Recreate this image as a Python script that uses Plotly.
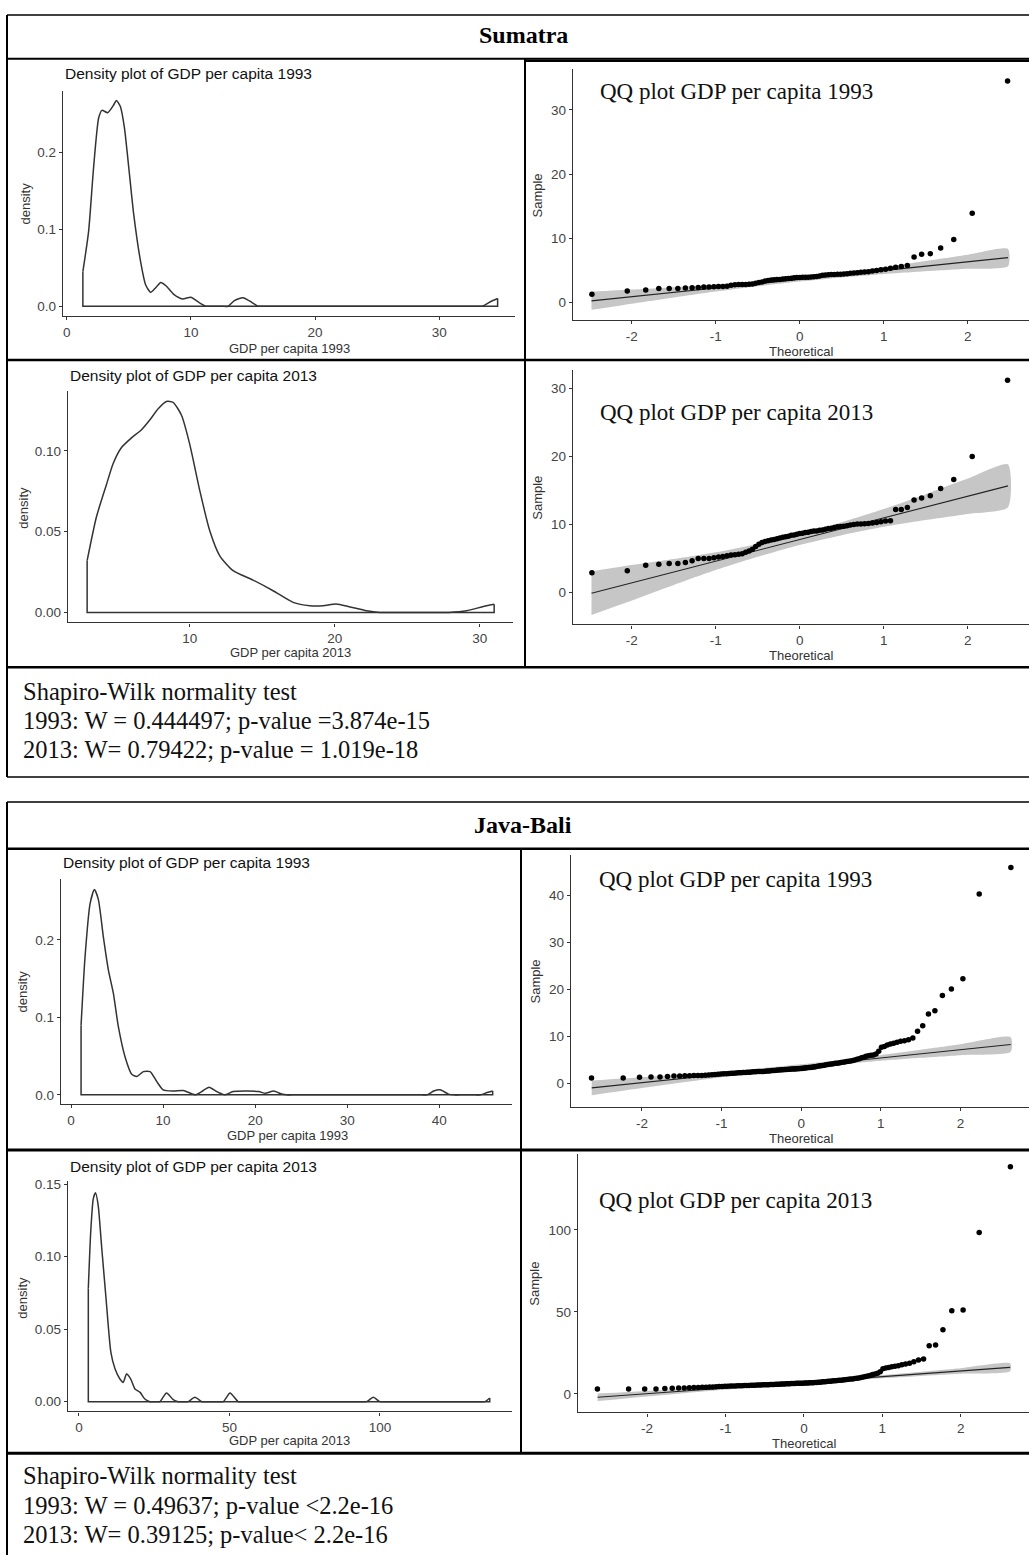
import plotly.graph_objects as go
from statistics import NormalDist

W, H = 1029, 1555

# ---------------- DATA ----------------
# Density curves
sum93_dens_x = [1.3, 1.76, 2.16, 2.57, 2.84, 3.3, 3.78, 4.0, 4.32, 4.65, 5.0, 5.4, 5.95, 6.35, 6.76, 7.16, 7.57, 7.97,
                8.65, 9.32, 10.0, 10.5, 11.2, 11.8, 12.5, 13.0, 13.5, 14.2, 14.9, 15.4, 16.0, 33.0, 33.5, 34.2, 34.7]
sum93_dens_y = [0.045, 0.097, 0.18, 0.245, 0.255, 0.252, 0.262, 0.268, 0.26, 0.232, 0.18, 0.119, 0.058, 0.028, 0.018,
                0.024, 0.031, 0.027, 0.015, 0.0095, 0.0117, 0.0065, 0.0, 0.0, 0.0, 0.0, 0.0074, 0.011, 0.005, 0.0,
                0.0, 0.0, 0.0, 0.0065, 0.01]

sum13_dens_x = [2.92, 3.56, 4.25, 4.71, 5.29, 5.98, 6.67, 7.24, 7.82, 8.39, 8.85, 9.43, 10.0, 10.7, 11.38, 12.07,
                12.99, 14.37, 15.75, 17.13, 18.28, 19.2, 20.1, 21.0, 22.2, 23.1, 23.8, 27.3, 27.9, 29.1, 30.2, 31.0]
sum13_dens_y = [0.032, 0.059, 0.079, 0.092, 0.102, 0.108, 0.113, 0.119, 0.126, 0.1305, 0.130, 0.122, 0.104, 0.075,
                0.0505, 0.035, 0.0258, 0.020, 0.0134, 0.0062, 0.0041, 0.0041, 0.0052, 0.0035, 0.001, 0.0, 0.0, 0.0,
                0.0, 0.001, 0.0035, 0.005]

java93_dens_x = [1.09, 1.52, 2.07, 2.54, 2.97, 3.51, 4.06, 4.6, 5.14, 5.87, 6.59, 7.14, 7.86, 8.59, 9.31, 10.0, 11.1,
                 12.2, 13.5, 14.2, 15.0, 15.8, 16.7, 17.6, 19.1, 20.4, 21.1, 22.0, 22.9, 23.4, 24.0, 38.1, 38.7, 39.4,
                 40.1, 41.0, 41.6, 42.2, 43.9, 44.5, 45.2, 45.8]
java93_dens_y = [0.090, 0.178, 0.247, 0.265, 0.252, 0.204, 0.161, 0.131, 0.088, 0.049, 0.0267, 0.0237, 0.030, 0.030,
                 0.0172, 0.0065, 0.005, 0.0056, 0.0, 0.0043, 0.0099, 0.0043, 0.0, 0.0043, 0.005, 0.0043, 0.002, 0.005,
                 0.001, 0.0, 0.0, 0.0, 0.0, 0.005, 0.0065, 0.001, 0.0, 0.0, 0.0, 0.0, 0.003, 0.005]

java13_dens_x = [3.1, 3.9, 4.76, 5.5, 6.4, 7.5, 9.0, 10.6, 12.0, 13.6, 14.7, 15.8, 17.2, 18.6, 20.3, 21.9, 23.6, 24.5,
                 26.0, 26.9, 29.1, 31.3, 33.0, 34.0, 35.3, 36.3, 38.5, 40.8, 41.8, 47.0, 48.0, 50.2, 52.9, 54.2, 94.3,
                 95.6, 97.8, 100.0, 101.3, 133.6, 134.9, 136.5]
java13_dens_y = [0.078, 0.117, 0.14, 0.144, 0.135, 0.1075, 0.0708, 0.034, 0.0225, 0.0156, 0.0133, 0.019, 0.0156,
                 0.0087, 0.0064, 0.0018, 0.0, 0.0, 0.0, 0.0, 0.006, 0.0014, 0.0, 0.0, 0.0, 0.0, 0.003, 0.0, 0.0, 0.0,
                 0.0, 0.006, 0.0, 0.0, 0.0, 0.0, 0.003, 0.0, 0.0, 0.0, 0.0, 0.0025]

# QQ sample values (sorted)
sum93_sample = [1.28, 1.8, 1.95, 2.2, 2.2, 2.2, 2.25, 2.3, 2.35, 2.4, 2.4, 2.45, 2.5, 2.5, 2.55, 2.7, 2.75, 2.8, 2.8,
                2.8, 2.85, 2.9, 3.0, 3.1, 3.2, 3.35, 3.45, 3.5, 3.55, 3.6, 3.6, 3.65, 3.7, 3.75, 3.8, 3.85, 3.9, 3.9,
                3.92, 3.95, 3.95, 3.97, 4.0, 4.05, 4.15, 4.25, 4.3, 4.32, 4.35, 4.37, 4.4, 4.42, 4.45, 4.5, 4.55, 4.6,
                4.65, 4.7, 4.75, 4.8, 4.9, 5.0, 5.1, 5.2, 5.35, 5.5, 5.6, 5.75, 7.1, 7.5, 7.6, 8.5, 9.8, 13.9, 34.5]
sum13_sample = [2.9, 3.2, 4.0, 4.15, 4.25, 4.25, 4.4, 4.65, 5.0, 5.0, 5.0, 5.1, 5.2, 5.3, 5.4, 5.5, 5.55, 5.6, 5.7,
                5.9, 6.1, 6.35, 6.75, 7.1, 7.35, 7.5, 7.6, 7.7, 7.8, 7.9, 8.0, 8.1, 8.2, 8.25, 8.4, 8.45, 8.55, 8.65,
                8.7, 8.8, 8.85, 8.95, 9.05, 9.05, 9.15, 9.2, 9.3, 9.4, 9.45, 9.55, 9.65, 9.7, 9.75, 9.8, 9.9, 10.0,
                10.05, 10.05, 10.1, 10.15, 10.2, 10.3, 10.4, 10.5, 10.55, 12.2, 12.2, 12.5, 13.6, 13.9, 14.2, 15.3,
                16.6, 20.0, 31.2]
java93_sample = [1.2, 1.2, 1.35, 1.4, 1.4, 1.5, 1.6, 1.6, 1.65, 1.65,
                 1.7, 1.7, 1.75, 1.8, 1.85, 1.9, 1.95, 2.0, 2.05, 2.1,
                 2.1, 2.15, 2.2, 2.2, 2.25, 2.3, 2.3, 2.35, 2.35, 2.4,
                 2.4, 2.45, 2.5, 2.5, 2.55, 2.55, 2.6, 2.6, 2.65, 2.7,
                 2.7, 2.75, 2.8, 2.8, 2.85, 2.9, 2.9, 2.95, 2.95, 3.0,
                 3.0, 3.05, 3.05, 3.1, 3.1, 3.1, 3.15, 3.15, 3.2, 3.2,
                 3.25, 3.3, 3.35, 3.4, 3.45, 3.5, 3.55, 3.6, 3.7, 3.75,
                 3.8, 3.85, 3.9, 4.0, 4.05, 4.1, 4.15, 4.2, 4.3, 4.35,
                 4.4, 4.5, 4.55, 4.6, 4.7, 4.75, 4.8, 4.9, 5.0, 5.2,
                 5.3, 5.5, 5.6, 5.8, 5.9, 6.0, 6.1, 6.3, 6.9, 7.7,
                 7.9, 8.2, 8.4, 8.6, 8.8, 9.0, 9.1, 9.3, 9.7, 11.1,
                 12.3, 14.8, 15.5, 18.7, 20.1, 22.3, 40.3, 45.9]
java13_sample = [3.0, 3.0, 3.0, 3.0, 3.4, 3.5, 3.6, 3.7, 3.8, 3.9,
                 4.0, 4.05, 4.1, 4.2, 4.3, 4.4, 4.5, 4.6, 4.7, 4.75,
                 4.8, 4.85, 4.9, 4.95, 5.0, 5.05, 5.1, 5.15, 5.2, 5.25,
                 5.3, 5.35, 5.4, 5.45, 5.5, 5.55, 5.6, 5.65, 5.7, 5.75,
                 5.8, 5.85, 5.9, 5.95, 6.0, 6.05, 6.1, 6.15, 6.2, 6.25,
                 6.3, 6.35, 6.4, 6.45, 6.5, 6.5, 6.55, 6.55, 6.6, 6.65,
                 6.7, 6.75, 6.8, 6.85, 6.9, 6.95, 7.0, 7.1, 7.2, 7.3,
                 7.4, 7.5, 7.6, 7.7, 7.8, 7.9, 8.0, 8.1, 8.2, 8.3,
                 8.4, 8.5, 8.7, 8.8, 8.9, 9.1, 9.2, 9.4, 9.6, 9.8,
                 10.0, 10.3, 10.6, 10.9, 11.3, 11.8, 12.2, 12.6, 13.5, 15.3,
                 15.8, 16.2, 16.6, 16.9, 17.2, 17.8, 18.3, 18.8, 19.7, 20.7,
                 21.3, 29.4, 29.8, 39.1, 50.7, 51.1, 98.4, 138.5]

# QQ reference lines (endpoints) and confidence bands
sum93_line_x = [-2.48, 2.48]
sum93_line_y = [0.26, 7.0]
sum93_band_x = [-2.48, -2, -1.5, -1, -0.5, 0, 0.5, 1, 1.5, 2, 2.48]
sum93_band_hi = [1.66, 2.01, 2.39, 2.82, 3.35, 3.98, 4.71, 5.54, 6.47, 7.45, 8.35]
sum93_band_lo = [-1.14, -0.19, 0.79, 1.72, 2.55, 3.28, 3.91, 4.44, 4.87, 5.25, 5.65]

sum13_line_x = [-2.48, 2.48]
sum13_line_y = [-0.11, 15.67]
sum13_band_x = [-2.48, -2, -1.5, -1, -0.5, 0, 0.5, 1, 1.5, 2, 2.48]
sum13_band_hi = [3.09, 4.02, 4.91, 5.90, 7.14, 8.58, 10.32, 12.26, 14.45, 16.74, 18.82]
sum13_band_lo = [-3.31, -1.18, 1.11, 3.30, 5.24, 6.98, 8.42, 9.66, 10.65, 11.54, 12.52]

java93_line_x = [-2.63, 2.63]
java93_line_y = [-0.90, 8.30]
java93_band_x = [-2.63, -2, -1.5, -1, -0.5, 0, 0.5, 1, 1.5, 2, 2.63]
java93_band_hi = [0.65, 1.35, 1.925, 2.55, 3.275, 4.10, 5.025, 6.05, 7.175, 8.35, 9.85]
java93_band_lo = [-2.45, -0.95, 0.225, 1.35, 2.375, 3.30, 4.125, 4.85, 5.475, 6.05, 6.75]

java13_line_x = [-2.63, 2.63]
java13_line_y = [-2.03, 16.23]
java13_band_x = [-2.63, -2, -1.5, -1, -0.5, 0, 0.5, 1, 1.5, 2, 2.63]
java13_band_hi = [0.27, 1.86, 3.195, 4.58, 6.065, 7.7, 9.535, 11.52, 13.605, 15.74, 18.63]
java13_band_lo = [-4.33, -1.54, 0.595, 2.68, 4.665, 6.5, 8.135, 9.62, 11.005, 12.34, 13.83]

# Tick labels
dens_ticks_a = [0.0, 0.1, 0.2]
dens_ticktext_a = ["0.0", "0.1", "0.2"]
dens_ticks_b = [0.0, 0.05, 0.10]
dens_ticktext_b = ["0.00", "0.05", "0.10"]
dens_ticks_c = [0.0, 0.05, 0.10, 0.15]
dens_ticktext_c = ["0.00", "0.05", "0.10", "0.15"]
qq_xticks = [-2, -1, 0, 1, 2]
qq_xticktext = ["-2", "-1", "0", "1", "2"]

# Texts
regions = ["Sumatra", "Java-Bali"]
sw_lines_sumatra = ["Shapiro-Wilk normality test",
                    "1993: W = 0.444497; p-value =3.874e-15",
                    "2013: W= 0.79422; p-value = 1.019e-18"]
sw_lines_java = ["Shapiro-Wilk normality test",
                 "1993: W = 0.49637; p-value <2.2e-16",
                 "2013: W= 0.39125; p-value< 2.2e-16"]

# ---------------- FIGURE ----------------
SANS = "Liberation Sans, Arial, sans-serif"
SERIF = "Liberation Serif, Times New Roman, serif"
AXC = "#333333"
TICKC = "#444444"

fig = go.Figure()
annotations = []
shapes = []


def px(x):
    return x / W


def py(y):
    return 1 - y / H


def add_axes(i, box, xr, yr, xt, yt, xtt=None, ytt=None):
    x0, x1, y0, y1 = box
    common = dict(showline=True, linecolor=AXC, linewidth=1.4, ticks="outside", ticklen=3,
                  tickcolor=AXC, tickwidth=1.3, showgrid=False, zeroline=False,
                  tickfont=dict(family=SANS, size=13.5, color=TICKC), fixedrange=True)
    xa = dict(common, domain=[px(x0), px(x1)], range=xr, anchor="y%d" % i, tickvals=xt)
    ya = dict(common, domain=[py(y1), py(y0)], range=yr, anchor="x%d" % i, tickvals=yt)
    if xtt:
        xa["ticktext"] = xtt
    if ytt:
        ya["ticktext"] = ytt
    sfx = "" if i == 1 else str(i)
    fig.layout["xaxis" + sfx] = xa
    fig.layout["yaxis" + sfx] = ya


def add_density(i, xs, ys):
    ax = dict(xaxis="x%d" % i, yaxis="y%d" % i)
    fig.add_trace(go.Scatter(x=xs, y=ys, mode="lines", line=dict(color="#333333", width=1.5, shape="spline",
                                                                    smoothing=0.6), hoverinfo="skip", **ax))
    fig.add_trace(go.Scatter(x=[xs[0], xs[0], xs[-1], xs[-1]], y=[ys[0], 0, 0, ys[-1]], mode="lines",
                             line=dict(color="#333333", width=1.5), hoverinfo="skip", **ax))


def add_qq(i, sample, lx, ly, bx, bhi, blo):
    ax = dict(xaxis="x%d" % i, yaxis="y%d" % i)
    n = len(sample)
    nd = NormalDist()
    theo = [nd.inv_cdf((k + 0.5) / n) for k in range(n)]
    fig.add_trace(go.Scatter(x=bx + bx[::-1], y=bhi + blo[::-1], mode="lines", fill="toself",
                             fillcolor="#c6c6c6", line=dict(width=0, shape="spline", smoothing=0.6),
                             hoverinfo="skip", **ax))
    fig.add_trace(go.Scatter(x=lx, y=ly, mode="lines", line=dict(color="#222222", width=1.1),
                             hoverinfo="skip", **ax))
    fig.add_trace(go.Scatter(x=theo, y=sample, mode="markers", marker=dict(color="black", size=5.5),
                             hoverinfo="skip", **ax))


def ann(text, x, y, size, family, color="#000", xanchor="center", angle=0, bold=False):
    if bold:
        text = "<b>%s</b>" % text
    annotations.append(dict(text=text, x=px(x), y=py(y), xref="paper", yref="paper", showarrow=False,
                            xanchor=xanchor, yanchor="middle", textangle=angle,
                            font=dict(size=size, family=family, color=color)))


def hline(x0, x1, y, w=2):
    shapes.append(dict(type="line", xref="paper", yref="paper", x0=px(x0), x1=px(x1), y0=py(y), y1=py(y),
                       line=dict(color="black", width=w)))


def vline(x, y0, y1, w=2):
    shapes.append(dict(type="line", xref="paper", yref="paper", x0=px(x), x1=px(x), y0=py(y0), y1=py(y1),
                       line=dict(color="black", width=w)))


TITLE_C = "#111111"

# ---- Sumatra ----
add_density(1, sum93_dens_x, sum93_dens_y)
add_axes(1, (63, 515, 87, 313), [-0.3, 36.1], [-0.013, 0.2805], [0, 10, 20, 30], dens_ticks_a, None, dens_ticktext_a)
ann("Density plot of GDP per capita 1993", 63, 70, 15.5, SANS, TITLE_C, "left")
ann("density", 25, 200, 13, SANS, AXC, angle=-90)
ann("GDP per capita 1993", 289, 345, 13, SANS, AXC)

add_qq(2, sum93_sample, sum93_line_x, sum93_line_y, sum93_band_x, sum93_band_hi, sum93_band_lo)
add_axes(2, (573, 1029, 65, 317), [-2.70, 2.73], [-2.75, 36.4], qq_xticks, [0, 10, 20, 30], qq_xticktext)
ann("QQ plot GDP per capita 1993", 598, 88, 23, SERIF, "#111", "left")
ann("Sample", 538, 192, 13, SANS, AXC, angle=-90)
ann("Theoretical", 801, 348, 13, SANS, AXC)

add_density(3, sum13_dens_x, sum13_dens_y)
add_axes(3, (68, 513, 388, 620), [1.6, 32.3], [-0.0062, 0.137], [10, 20, 30], dens_ticks_b, None, dens_ticktext_b)
ann("Density plot of GDP per capita 2013", 68, 372, 15.5, SANS, TITLE_C, "left")
ann("density", 24, 505, 13, SANS, AXC, angle=-90)
ann("GDP per capita 2013", 290, 650, 13, SANS, AXC)

add_qq(4, sum13_sample, sum13_line_x, sum13_line_y, sum13_band_x, sum13_band_hi, sum13_band_lo)
add_axes(4, (573, 1029, 367, 622), [-2.70, 2.73], [-4.7, 32.7], qq_xticks, [0, 10, 20, 30], qq_xticktext)
ann("QQ plot GDP per capita 2013", 598, 410, 23, SERIF, "#111", "left")
ann("Sample", 538, 495, 13, SANS, AXC, angle=-90)
ann("Theoretical", 801, 653, 13, SANS, AXC)

# ---- Java-Bali ----
add_density(5, java93_dens_x, java93_dens_y)
add_axes(5, (61, 512, 877, 1103), [-1.09, 47.9], [-0.012, 0.279], [0, 10, 20, 30, 40], dens_ticks_a, None,
         dens_ticktext_a)
ann("Density plot of GDP per capita 1993", 61, 861, 15.5, SANS, TITLE_C, "left")
ann("density", 22, 990, 13, SANS, AXC, angle=-90)
ann("GDP per capita 1993", 287, 1134, 13, SANS, AXC)

add_qq(6, java93_sample, java93_line_x, java93_line_y, java93_band_x, java93_band_hi, java93_band_lo)
add_axes(6, (571, 1029, 853, 1106), [-2.89, 2.86], [-5.0, 48.6], qq_xticks, [0, 10, 20, 30, 40], qq_xticktext)
ann("QQ plot GDP per capita 1993", 597, 878, 23, SERIF, "#111", "left")
ann("Sample", 535, 980, 13, SANS, AXC, angle=-90)
ann("Theoretical", 801, 1137, 13, SANS, AXC)

add_density(7, java13_dens_x, java13_dens_y)
add_axes(7, (68, 512, 1180, 1411), [-3.65, 143.9], [-0.0067, 0.1522], [0, 50, 100], dens_ticks_c, None,
         dens_ticktext_c)
ann("Density plot of GDP per capita 2013", 68, 1165, 15.5, SANS, TITLE_C, "left")
ann("density", 23, 1297, 13, SANS, AXC, angle=-90)
ann("GDP per capita 2013", 289, 1440, 13, SANS, AXC)

add_qq(8, java13_sample, java13_line_x, java13_line_y, java13_band_x, java13_band_hi, java13_band_lo)
add_axes(8, (578, 1029, 1153, 1412), [-2.88, 2.87], [-11.2, 146.2], qq_xticks, [0, 50, 100], qq_xticktext)
ann("QQ plot GDP per capita 2013", 597, 1200, 23, SERIF, "#111", "left")
ann("Sample", 535, 1283, 13, SANS, AXC, angle=-90)
ann("Theoretical", 804, 1443, 13, SANS, AXC)

# ---- Headers and Shapiro-Wilk text ----
ann(regions[0], 523, 31, 24, SERIF, "#000", bold=True)
ann(regions[1], 523, 823, 24, SERIF, "#000", bold=True)
for k, t in enumerate(sw_lines_sumatra):
    ann(t, 21, [689, 718, 747][k], 24.5, SERIF, "#111", "left")
for k, t in enumerate(sw_lines_java):
    ann(t, 21, [1475, 1505, 1534][k], 24.5, SERIF, "#111", "left")

# ---- Borders ----
hline(7, 1029, 11, 1.5)
vline(7, 11, 775, 2)
hline(7, 1029, 55, 2)
hline(525, 1029, 57, 2.5)
vline(525, 55, 665, 2)
hline(7, 1029, 357, 2.5)
hline(7, 1029, 665, 2.5)
hline(7, 1029, 775, 1.5)

hline(7, 1029, 800, 1.5)
vline(7, 800, 1555, 2)
hline(7, 1029, 847, 2.5)
vline(521, 847, 1453, 2)
hline(7, 1029, 1149, 3)
hline(7, 1029, 1453, 3)

fig.update_layout(width=W, height=H, margin=dict(l=0, r=0, t=0, b=0), showlegend=False,
                  paper_bgcolor="white", plot_bgcolor="white", annotations=annotations, shapes=shapes)

fig.write_html("out.html")
